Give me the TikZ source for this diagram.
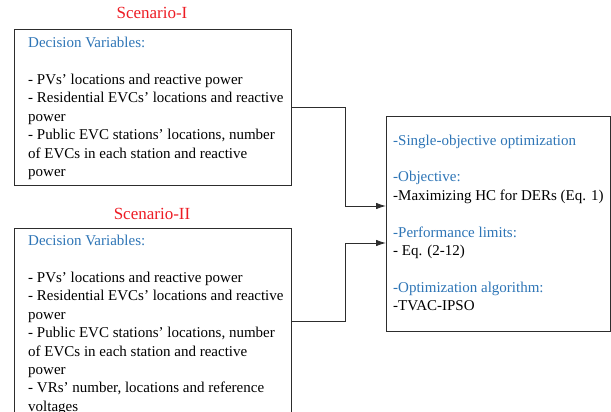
\documentclass[tikz,border=0pt]{standalone}
\usepackage{fontspec}
\setmainfont{Liberation Serif}
\usetikzlibrary{arrows.meta,calc}
\definecolor{hdblue}{RGB}{46,117,182}
\definecolor{scred}{RGB}{237,28,36}
\definecolor{edge}{RGB}{45,45,45}
\begin{document}
\begin{tikzpicture}[x=1pt,y=-1pt,
  frame/.style={draw=edge, line width=0.9pt, inner sep=0pt, outer sep=0pt, rectangle, anchor=north west},
  body/.style={font=\fontsize{15}{18.4}\selectfont, align=left, inner sep=0pt, anchor=north west, text=black},
  title/.style={font=\fontsize{17}{20}\selectfont, text=scred, inner sep=0pt, anchor=base},
  link/.style={draw=edge, line width=0.9pt, -{Latex[length=10pt,width=6.5pt]}}]
\useasboundingbox (0,0) rectangle (611,412);
\clip (0,0) rectangle (611,412);

% frames
\node[frame, minimum width=277pt, minimum height=156pt] (s1) at (14,29) {};
\node[frame, minimum width=277pt, minimum height=186pt] (s2) at (14,228) {};
\node[frame, minimum width=224pt, minimum height=215pt] (opt) at (386,116) {};

% titles
\node[title] (t1) at (152,19) {Scenario-I};
\node[title] (t2) at (152,219) {Scenario-II};

% texts
\node[body] (b1) at ($(s1.north west)+(14,8)$) {%
{\color{hdblue}Decision Variables:}\\[18.4pt]
- PVs’ locations and reactive power\\
- Residential EVCs’ locations and reactive\\
power\\
- Public EVC stations’ locations, number\\
of EVCs in each station and reactive\\
power};

\node[body] (b2) at ($(s2.north west)+(14,7)$) {%
{\color{hdblue}Decision Variables:}\\[18.4pt]
- PVs’ locations and reactive power\\
- Residential EVCs’ locations and reactive\\
power\\
- Public EVC stations’ locations, number\\
of EVCs in each station and reactive\\
power\\
- VRs’ number, locations and reference\\
voltages};

\node[body] (b3) at ($(opt.north west)+(7,18.5)$) {%
{\color{hdblue}-Single-objective optimization}\\[18.4pt]
{\color{hdblue}-Objective:}\\
-Maximizing HC for DERs (Eq. 1)\\[18.4pt]
{\color{hdblue}-Performance limits:}\\
- Eq. (2-12)\\[18.4pt]
{\color{hdblue}-Optimization algorithm:}\\
-TVAC-IPSO};

% connectors
\coordinate (in1) at ($(opt.west)+(0,-17.5)$);
\coordinate (in2) at ($(opt.west)+(0,19.5)$);
\draw[link] (s1.east) -- ++(54,0) |- (in1);
\draw[link] (s2.east) -- ++(54,0) |- (in2);
\end{tikzpicture}
\end{document}
